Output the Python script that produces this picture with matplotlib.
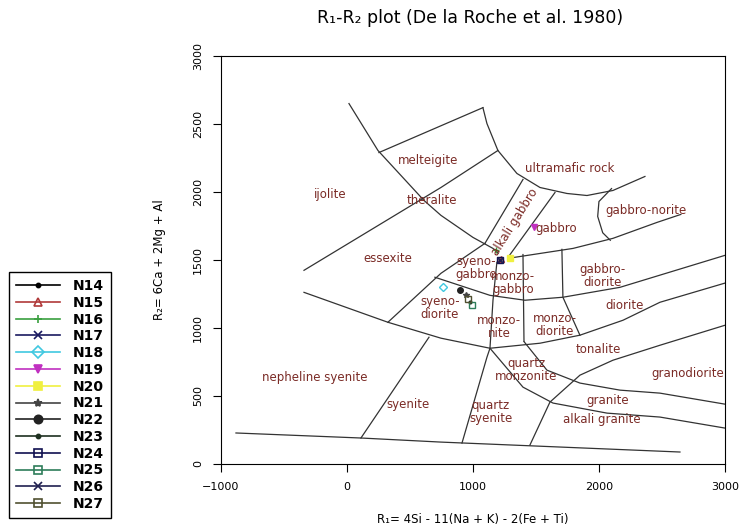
import matplotlib
matplotlib.use("Agg")
import matplotlib.pyplot as plt
from matplotlib.lines import Line2D

plt.rcParams['font.family'] = ['DejaVu Sans']

# field boundaries of the R1-R2 diagram (R1, R2 pairs)
outer_curve = [(16, 2650), (246, 2305), (611, 1938), (746, 1828), (1000, 1666), (1159, 1585), (1200, 1550)]
melteigite_top = [(254, 2290), (1079, 2620)]
ultramafic_curve = [(1079, 2620), (1111, 2503), (1198, 2305), (1349, 2136), (1532, 2033),
                    (1746, 1989), (1905, 1974), (2111, 2011), (2365, 2114)]
ijolite_essexite = [(-341, 1424), (746, 2033), (1198, 2305)]
alkali_gabbro_left = [(1397, 2092), (1095, 1622)]
essexite_right = [(325, 1042), (746, 1402), (1095, 1622)]
alkali_gabbro_right = [(1651, 1996), (1278, 1519)]
gabbro_lower = [(1278, 1512), (1794, 1585), (2111, 1659), (2460, 1776), (2650, 1835)]
gabbro_norite = [(2100, 2025), (2000, 1930), (1990, 1820), (2030, 1700), (2090, 1645)]
neph_syenite_top = [(-341, 1262), (325, 1042), (746, 925), (1135, 851), (1532, 888),
                    (1849, 947), (2191, 1057), (2484, 1189), (3000, 1330)]
syenite_left = [(111, 191), (651, 932)]
bottom_line = [(-881, 228), (111, 191), (746, 161), (2643, 88)]
syenite_right = [(913, 154), (1111, 785), (1135, 851), (1159, 1204), (1190, 1483)]
gabbro_row_lower = [(698, 1373), (1135, 1240), (1413, 1204), (1714, 1226), (2167, 1299), (3000, 1534)]
monzogabbro_right = [(1706, 1578), (1714, 1226), (1849, 947)]
monzonite_right = [(1397, 1540), (1405, 903)]
qz_syenite_curve = [(1135, 851), (1397, 565), (1635, 448), (2064, 374), (2484, 345), (3000, 264)]
tonalite_lower = [(1452, 139), (1611, 455), (1849, 653), (2111, 763), (2484, 873), (3000, 1020)]
granodiorite_lower = [(1405, 900), (1587, 690), (1849, 595), (2167, 543), (2484, 521), (3000, 440)]

boundaries = [outer_curve, melteigite_top, ultramafic_curve, ijolite_essexite, alkali_gabbro_left,
              essexite_right, alkali_gabbro_right, gabbro_lower, gabbro_norite, neph_syenite_top,
              syenite_left, bottom_line, syenite_right, gabbro_row_lower, monzogabbro_right,
              monzonite_right, qz_syenite_curve, tonalite_lower, granodiorite_lower]

# field names and where they sit
field_names = ["melteigite", "ultramafic rock", "ijolite", "theralite", "gabbro-norite", "gabbro",
               "essexite", "syeno-\ngabbro", "monzo-\ngabbro", "gabbro-\ndiorite", "diorite",
               "syeno-\ndiorite", "monzo-\nnite", "monzo-\ndiorite", "tonalite", "quartz\nmonzonite",
               "granodiorite", "nepheline syenite", "syenite", "quartz\nsyenite", "granite",
               "alkali granite"]
field_x = [643, 1770, -135, 675, 2373, 1660, 325, 1024, 1318, 2032, 2206,
           738, 1206, 1651, 1992, 1421, 2706, -254, 484, 1143, 2072, 2024]
field_y = [2231, 2175, 1982, 1938, 1864, 1732, 1512, 1439, 1329, 1380, 1167,
           1145, 1006, 1020, 844, 690, 668, 639, 440, 382, 470, 330]

# samples
samples = ["N14", "N15", "N16", "N17", "N18", "N19", "N20", "N21", "N22", "N23", "N24", "N25", "N26", "N27"]
r1 = [1214, 1225, 1183, 1214, 762, 1484, 1294, 944, 897, 976, 1214, 992, 1214, 960]
r2 = [1497, 1510, 1571, 1497, 1299, 1740, 1512, 1240, 1277, 1189, 1497, 1167, 1497, 1215]
colors = ["black", "#b03a3a", "#3aa040", "#1a1a60", "#40c8e0", "#c030c0", "#f0f040", "#444444",
          "#222222", "#1e3020", "#101050", "#2e7d5a", "#202050", "#505030"]
markers = [".", "^", "+", "x", "D", "v", "s", "*", "o", ".", "s", "s", "x", "s"]
filled = [True, False, True, True, False, True, True, True, True, True, False, False, True, False]

fig = plt.figure(figsize=(7.43, 5.31), dpi=100)
ax = fig.add_axes([0.2974, 0.1262, 0.6783, 0.7684])

for line in boundaries:
    xs = [p[0] for p in line]
    ys = [p[1] for p in line]
    ax.plot(xs, ys, color="#333333", lw=0.9)

for name, x, y in zip(field_names, field_x, field_y):
    ax.text(x, y, name, ha="center", va="center", fontsize=8.5, color="#7a2a25",
            linespacing=1.0)
ax.text(1333, 1776, "alkali gabbro", ha="center", va="center", fontsize=8.5,
        color="#7a2a25", rotation=58)

handles = []
for s, x, y, c, m, f in zip(samples, r1, r2, colors, markers, filled):
    ax.plot([x], [y], linestyle="none", marker=m, markersize=4, color=c,
            markerfacecolor=c if f else "none", markeredgewidth=1)
    handles.append(Line2D([0], [0], color=c, lw=1.2, marker=m, markersize=6,
                          markerfacecolor=c if f else "none", markeredgewidth=1.2))

ax.set_xlim(-1000, 3000)
ax.set_ylim(0, 3000)
ax.set_xticks([-1000, 0, 1000, 2000, 3000])
ax.set_yticks([0, 500, 1000, 1500, 2000, 2500, 3000])
ax.tick_params(direction="out", length=6, labelsize=8, pad=7)
for lab in ax.get_yticklabels():
    lab.set_rotation(90)
    lab.set_va("center")

fig.text(473 / 743, 1 - 519 / 531, "R\u2081= 4Si - 11(Na + K) - 2(Fe + Ti)",
         fontsize=8.5, ha="center", va="center")
fig.text(160 / 743, 1 - 260 / 531, "R\u2082= 6Ca + 2Mg + Al", fontsize=8.5,
         rotation=90, ha="center", va="center")
fig.text(470 / 743, 1 - 18 / 531, "R\u2081-R\u2082 plot (De la Roche et al. 1980)",
         fontsize=12.5, ha="center", va="center")

fig.legend(handles, samples, loc="lower left", bbox_to_anchor=(9 / 743, 1 - 518 / 531),
           borderaxespad=0, fancybox=False, edgecolor="black", framealpha=1,
           handlelength=3.2, handletextpad=0.9, prop={"weight": "bold", "size": 10},
           labelspacing=0.2, borderpad=0.5)

fig.savefig("out.png", dpi=100)
